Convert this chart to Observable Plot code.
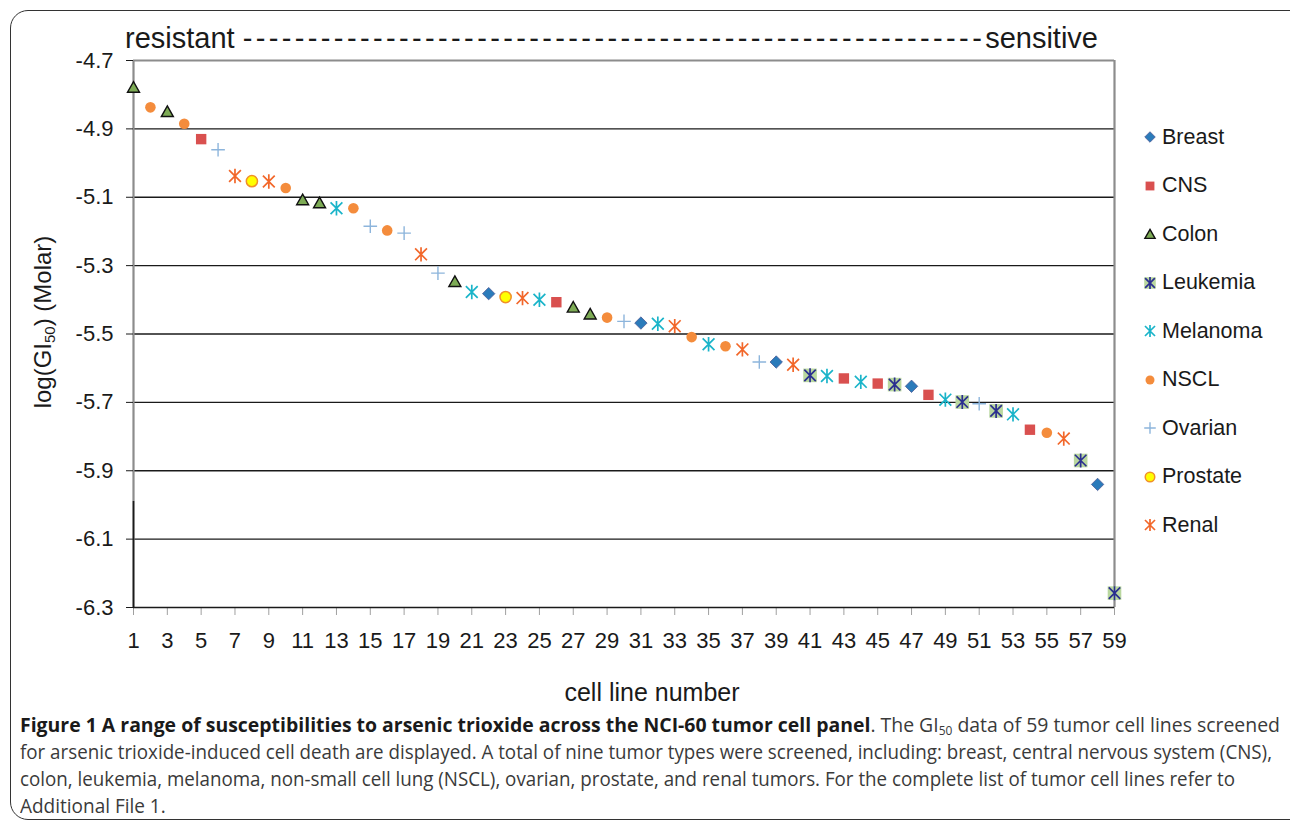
<!DOCTYPE html>
<html>
<head>
<meta charset="utf-8">
<script src="https://cdn.jsdelivr.net/npm/d3@7"></script>
<script src="https://cdn.jsdelivr.net/npm/@observablehq/plot@0.6"></script>
<style>
html,body{margin:0;padding:0;background:#fff;}
body{width:1290px;height:825px;overflow:hidden;position:relative;font-family:"Liberation Sans",Arial,sans-serif;color:#1a1a1a;}
#frame{position:absolute;left:10px;top:10px;width:1330px;height:810px;border:1.5px solid #333;border-radius:18px;box-sizing:border-box;}
#chart{position:absolute;left:0;top:0;}
#title{position:absolute;left:125px;top:22px;font-size:29px;white-space:nowrap;line-height:32px;}
#ytitle{position:absolute;left:43px;top:322px;transform:translate(-50%,-50%) rotate(-90deg);font-size:24px;white-space:nowrap;}
#ytitle sub{font-size:15px;vertical-align:-4px;}
#xtitle{position:absolute;left:652px;top:692px;transform:translate(-50%,-50%);font-size:25px;white-space:nowrap;}
#legend{position:absolute;left:1138px;top:112.75px;}
.li{height:48.5px;display:flex;align-items:center;font-size:21.5px;white-space:nowrap;}
.li svg{width:24px;height:20px;margin-right:0px;}
#caption{position:absolute;left:20px;top:711px;width:1300px;font-family:"Open Sans",sans-serif;font-size:19.5px;line-height:27px;color:#3a3a3a;}
#caption div{white-space:nowrap;height:27px;}
#caption span.ln{display:inline-block;transform-origin:0 50%;}
#caption b{color:#1a1a1a;}
#caption sub{font-size:12px;vertical-align:-3px;line-height:0;}
</style>
</head>
<body>
<div id="frame"></div>
<div id="chart"></div>
<div id="title"><span>resistant </span><span id="dashes"></span><span>sensitive</span></div>
<div id="ytitle">log(GI<sub>50</sub>) (Molar)</div>
<div id="xtitle">cell line number</div>
<div id="legend"></div>
<div id="caption">
<div><span class="ln"><b>Figure 1 A range of susceptibilities to arsenic trioxide across the NCI-60 tumor cell panel</b>. The GI<sub>50</sub> data of 59 tumor cell lines screened</span></div>
<div><span class="ln">for arsenic trioxide-induced cell death are displayed. A total of nine tumor types were screened, including: breast, central nervous system (CNS),</span></div>
<div><span class="ln">colon, leukemia, melanoma, non-small cell lung (NSCL), ovarian, prostate, and renal tumors. For the complete list of tumor cell lines refer to</span></div>
<div><span class="ln">Additional File 1.</span></div>
</div>
<script>
// ---------- data ----------
const categories = ["Breast","CNS","Colon","Leukemia","Melanoma","NSCL","Ovarian","Prostate","Renal"];
const tumorType = [
  "Colon","NSCL","Colon","NSCL","CNS","Ovarian","Renal","Prostate","Renal","NSCL",
  "Colon","Colon","Melanoma","NSCL","Ovarian","NSCL","Ovarian","Renal","Ovarian","Colon",
  "Melanoma","Breast","Prostate","Renal","Melanoma","CNS","Colon","Colon","NSCL","Ovarian",
  "Breast","Melanoma","Renal","NSCL","Melanoma","NSCL","Renal","Ovarian","Breast","Renal",
  "Leukemia","Melanoma","CNS","Melanoma","CNS","Leukemia","Breast","CNS","Melanoma","Leukemia",
  "Ovarian","Leukemia","Melanoma","CNS","NSCL","Renal","Leukemia","Breast","Leukemia"
];
const logGI50 = [
  -4.778,-4.837,-4.849,-4.885,-4.930,-4.961,-5.038,-5.053,-5.054,-5.073,
  -5.107,-5.116,-5.132,-5.132,-5.185,-5.197,-5.205,-5.267,-5.322,-5.346,
  -5.377,-5.382,-5.392,-5.395,-5.400,-5.407,-5.421,-5.441,-5.452,-5.463,
  -5.468,-5.470,-5.477,-5.509,-5.530,-5.536,-5.545,-5.582,-5.582,-5.590,
  -5.621,-5.623,-5.630,-5.640,-5.645,-5.648,-5.653,-5.678,-5.692,-5.699,
  -5.704,-5.725,-5.735,-5.780,-5.789,-5.806,-5.870,-5.940,-6.258
];
const xTicks = [1,3,5,7,9,11,13,15,17,19,21,23,25,27,29,31,33,35,37,39,41,43,45,47,49,51,53,55,57,59];
const yTicks = [-4.7,-4.9,-5.1,-5.3,-5.5,-5.7,-5.9,-6.1,-6.3];

const data = tumorType.map((t, i) => ({cell: i + 1, type: t, value: logGI50[i]}));

// ---------- marker shapes ----------
const rad = size => Math.sqrt(size / Math.PI);
const symDiamond = {draw(c, s){const r = rad(s); c.moveTo(0,-r); c.lineTo(r,0); c.lineTo(0,r); c.lineTo(-r,0); c.closePath();}};
const symSquare = {draw(c, s){const r = rad(s); c.moveTo(-r,-r); c.lineTo(r,-r); c.lineTo(r,r); c.lineTo(-r,r); c.closePath();}};
const symTriangle = {draw(c, s){const r = rad(s); c.moveTo(0,-r*0.92); c.lineTo(r,r*0.85); c.lineTo(-r,r*0.85); c.closePath();}};
const symStar = {draw(c, s){const r = rad(s), d = r*0.82; c.moveTo(0,-r); c.lineTo(0,r); c.moveTo(-d,-d); c.lineTo(d,d); c.moveTo(-d,d); c.lineTo(d,-d);}};
const symPlus = {draw(c, s){const r = rad(s); c.moveTo(-r,0); c.lineTo(r,0); c.moveTo(0,-r); c.lineTo(0,r);}};
const symCircle = {draw(c, s){const r = rad(s); c.moveTo(r,0); c.arc(0,0,r,0,2*Math.PI); c.closePath();}};

const styles = {
  Breast:   [{symbol: symDiamond, fill: "#2b7bba", stroke: "#4b5a96", strokeWidth: 0.8, r: 6.2}],
  CNS:      [{symbol: symSquare, fill: "#d9504f", stroke: "none", r: 5.2}],
  Colon:    [{symbol: symTriangle, fill: "#7dab55", stroke: "#111", strokeWidth: 1.4, r: 6}],
  Leukemia: [{symbol: symSquare, fill: "#b9d79f", stroke: "none", r: 6.8},
             {symbol: symStar, fill: "none", stroke: "#2b2f8f", strokeWidth: 1.7, r: 7}],
  Melanoma: [{symbol: symStar, fill: "none", stroke: "#1ab4c9", strokeWidth: 1.7, r: 7.2}],
  NSCL:     [{symbol: symCircle, fill: "#f48c3c", stroke: "none", r: 5.3}],
  Ovarian:  [{symbol: symPlus, fill: "none", stroke: "#8db5dc", strokeWidth: 1.4, r: 6.8}],
  Prostate: [{symbol: symCircle, fill: "#ffff00", stroke: "#f0902a", strokeWidth: 1.5, r: 5.6}],
  Renal:    [{symbol: symStar, fill: "none", stroke: "#f2672a", strokeWidth: 1.7, r: 7.2}]
};

const dotMarks = [];
for (const cat of categories) {
  const sub = data.filter(d => d.type === cat);
  for (const st of styles[cat]) {
    dotMarks.push(Plot.dot(sub, {x: "cell", y: "value", ...st}));
  }
}

const chart = Plot.plot({
  width: 1290, height: 720,
  marginTop: 60, marginBottom: 113, marginLeft: 133, marginRight: 176,
  x: {domain: [1, 59], axis: null},
  y: {domain: [-6.3, -4.7], axis: null},
  style: {fontFamily: "'Liberation Sans', Arial, sans-serif", background: "transparent", overflow: "visible", color: "#1a1a1a"},
  marks: [
    Plot.ruleY(yTicks.filter(v => v > -6.29 && v < -4.71), {stroke: "#1a1a1a", strokeWidth: 1.3}),
    Plot.ruleY([yTicks[0]], {stroke: "#8c8c8c", strokeWidth: 2.2}),
    Plot.ruleX([xTicks[xTicks.length - 1]], {stroke: "#8c8c8c", strokeWidth: 2.2}),
    Plot.ruleX([xTicks[0]], {stroke: "#8c8c8c", strokeWidth: 2.2}),
    Plot.ruleX([xTicks[0]], {y1: -5.99, y2: -6.3, stroke: "#1a1a1a", strokeWidth: 1.6}),
    Plot.axisY(yTicks, {label: null, tickSize: 7, tickPadding: 13, fontSize: 22, tickFormat: d => d.toFixed(1), stroke: "#1a1a1a", fill: "#1a1a1a"}),
    Plot.axisX(xTicks, {label: null, tickSize: 8, tickPadding: 17, fontSize: 22, stroke: "#a0a0a0", fill: "#1a1a1a"}),
    Plot.ruleY([yTicks[yTicks.length - 1]], {stroke: "#1a1a1a", strokeWidth: 1.6}),
    ...dotMarks
  ]
});
document.getElementById("chart").appendChild(chart);

// ---------- legend ----------
const legend = d3.select("#legend");
for (const cat of categories) {
  const row = legend.append("div").attr("class", "li");
  const svg = row.append("svg").attr("viewBox", "-12 -10 24 20");
  for (const st of styles[cat]) {
    const p = d3.path();
    const rr = st.r * 0.85;
    st.symbol.draw(p, Math.PI * rr * rr);
    svg.append("path").attr("d", p.toString())
      .attr("fill", st.fill).attr("stroke", st.stroke)
      .attr("stroke-width", st.strokeWidth || 0);
  }
  row.append("span").text(cat);
}

// ---------- title dashes ----------
const dashCount = 57;
const dashes = document.getElementById("dashes");
dashes.textContent = "-".repeat(dashCount);
const title = document.getElementById("title");
const targetW = 973;
const w0 = title.getBoundingClientRect().width;
dashes.style.letterSpacing = ((targetW - w0) / dashCount) + "px";

// ---------- caption fit (line widths as in the reference) ----------
const lineTargets = [1260, 1252, 1215];
const spans = document.querySelectorAll("#caption span.ln");
const scales = [];
spans.forEach((s, i) => {
  const w = s.getBoundingClientRect().width;
  const k = i < lineTargets.length ? lineTargets[i] / w : d3.mean(scales);
  scales.push(k);
  s.style.transform = `scaleX(${k})`;
});
</script>
</body>
</html>
